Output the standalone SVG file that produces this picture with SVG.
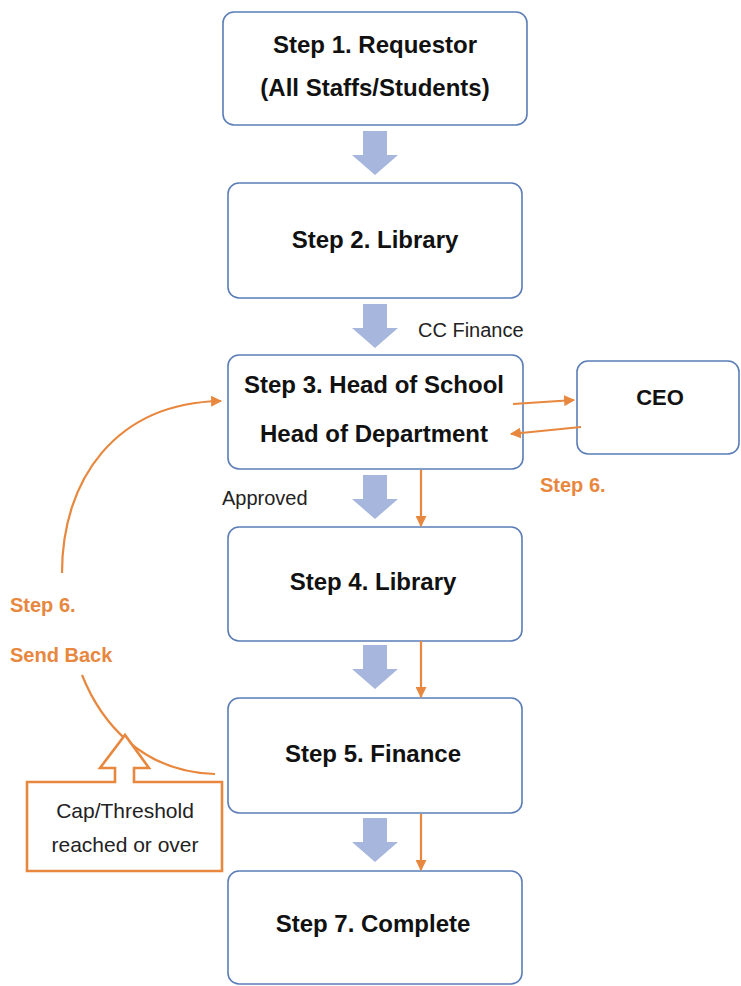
<svg xmlns="http://www.w3.org/2000/svg" width="741" height="986" viewBox="0 0 741 986">
  <style>
    .box { fill: #ffffff; stroke: #5a7db5; stroke-width: 1.6; }
    .step { font-family: "Liberation Sans", Arial, sans-serif; font-weight: bold; font-size: 24px; fill: #111111; text-anchor: middle; }
    .note { font-family: "Liberation Sans", Arial, sans-serif; font-size: 20px; fill: #222222; }
    .orange-text { font-family: "Liberation Sans", Arial, sans-serif; font-weight: bold; font-size: 20px; fill: #e8873e; }
    .flow { fill: #a7b6dc; }
    .link { fill: none; stroke: #e8873e; stroke-width: 2.2; }
  </style>
  <defs>
    <marker id="arrowOrange" viewBox="0 0 10 10" refX="9" refY="5" markerWidth="5" markerHeight="5" orient="auto" markerUnits="strokeWidth">
      <path d="M0,0 L10,5 L0,10 Z" fill="#e8873e"/>
    </marker>
    <!-- wide block arrow between steps, drawn from its top-centre -->
    <path id="blockArrow" class="flow" d="M-12,0 H12 V24 H23 L0,44 L-23,24 H-12 Z"/>
  </defs>

  <rect width="741" height="986" fill="#ffffff"/>

  <!-- nodes -->
  <g id="step1">
    <rect class="box" x="223" y="12" width="304" height="113" rx="11"/>
    <text class="step" x="375" y="53">Step 1. Requestor</text>
    <text class="step" x="375" y="96">(All Staffs/Students)</text>
  </g>

  <g id="step2">
    <rect class="box" x="228" y="183" width="294" height="115" rx="11"/>
    <text class="step" x="375" y="248">Step 2. Library</text>
  </g>

  <g id="step3">
    <rect class="box" x="228" y="355" width="295" height="114" rx="11"/>
    <text class="step" x="374" y="393">Step 3. Head of School</text>
    <text class="step" x="374" y="442">Head of Department</text>
  </g>

  <g id="ceo">
    <rect class="box" x="577" y="361" width="162" height="93" rx="11"/>
    <text class="step" x="660" y="405" style="font-size:22px">CEO</text>
  </g>

  <g id="step4">
    <rect class="box" x="228" y="527" width="294" height="114" rx="11"/>
    <text class="step" x="373" y="590">Step 4. Library</text>
  </g>

  <g id="step5">
    <rect class="box" x="228" y="698" width="294" height="115" rx="11"/>
    <text class="step" x="373" y="762">Step 5. Finance</text>
  </g>

  <g id="step7">
    <rect class="box" x="228" y="871" width="294" height="113" rx="11"/>
    <text class="step" x="373" y="932">Step 7. Complete</text>
  </g>

  <!-- connectors -->
  <g id="connectors">
    <use href="#blockArrow" x="375" y="131"/>
    <use href="#blockArrow" x="375" y="304"/>
    <use href="#blockArrow" x="375" y="475"/>
    <use href="#blockArrow" x="375" y="645"/>
    <use href="#blockArrow" x="375" y="818"/>

    <line class="link" x1="421" y1="470" x2="421" y2="526" marker-end="url(#arrowOrange)"/>
    <line class="link" x1="421" y1="641" x2="421" y2="697" marker-end="url(#arrowOrange)"/>
    <line class="link" x1="421" y1="814" x2="421" y2="870" marker-end="url(#arrowOrange)"/>

    <line class="link" x1="513" y1="404" x2="574" y2="400" marker-end="url(#arrowOrange)"/>
    <line class="link" x1="581" y1="427" x2="511" y2="434" marker-end="url(#arrowOrange)"/>

    <path class="link" d="M62,573 C62,480 115,403 221,401" marker-end="url(#arrowOrange)"/>
    <path class="link" d="M82,675 C100,720 140,772 215,774"/>
  </g>

  <g id="threshold">
    <path d="M27,782 H115 V768 H100 L125,735 L149,768 H134 V782 H222 V871 H27 Z" fill="#ffffff" stroke="#e8873e" stroke-width="2.6"/>
    <text class="note" x="125" y="818" text-anchor="middle" style="font-size:21px">Cap/Threshold</text>
    <text class="note" x="125" y="852" text-anchor="middle" style="font-size:21px">reached or over</text>
  </g>

  <!-- labels -->
  <g id="labels">
    <text class="note" x="418" y="337">CC Finance</text>
    <text class="note" x="222" y="505">Approved</text>
    <text class="orange-text" x="540" y="492">Step 6.</text>
    <text class="orange-text" x="10" y="612">Step 6.</text>
    <text class="orange-text" x="10" y="662">Send Back</text>
  </g>
</svg>
